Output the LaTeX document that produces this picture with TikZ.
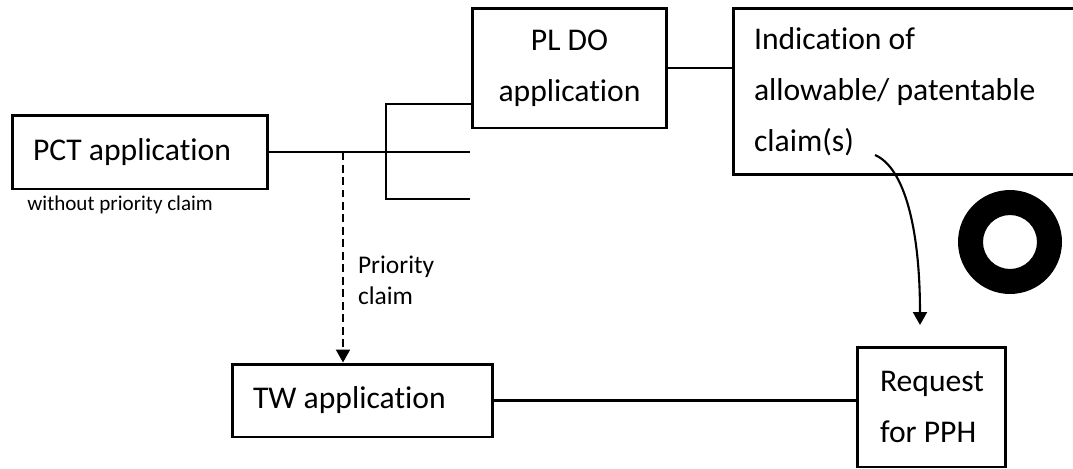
\documentclass[tikz,border=0pt]{standalone}
\usepackage{fontspec}
\setmainfont[Ligatures={NoCommon}]{Carlito}
\usetikzlibrary{arrows.meta}

\begin{document}
\begin{tikzpicture}[x=0.02cm, y=-0.02cm,
	box/.style={draw, line width=1.7pt, inner ysep=0pt, font=\fontsize{18}{29}\selectfont},
	leftbox/.style={box, align=flush left, inner xsep=0.42cm},
	midbox/.style={box, align=center, inner xsep=0pt},
	link/.style={line width=1.2pt},
	tip/.style={-{Triangle[length=0.26cm, width=0.28cm]}}]
			\useasboundingbox (0,0) rectangle (1073,468);
			\clip (0,0) rectangle (1073,468);
			\draw[color=black]
			node[leftbox, minimum height=1.48cm, text width=4.28cm] (pct) at (140,152) {PCT application}
			node[anchor=west, inner sep=0pt, font=\fontsize{12}{14}\selectfont] (pctnote) at (27,205) {without priority claim}
			node[midbox, minimum width=3.9cm, minimum height=2.4cm] (pldo) at (569.5,68) {PL DO\\application}
			node[leftbox, minimum height=3.34cm, text width=6.9cm] (ind) at (926.5,91.5) {Indication of\\allowable/ patentable\\claim(s)}
			node[leftbox, minimum height=1.46cm, text width=4.38cm] (tw) at (362.5,400.5) {TW application}
			node[leftbox, minimum height=2.4cm, inner xsep=0.46cm, text width=2.06cm] (req) at (931.5,407) {Request\\for PPH};
			\coordinate (pctend) at (470,152);
			\coordinate (branch) at (343,152);
			\coordinate (forktop) at (386,104);
			\coordinate (forkbot) at (386,199);
			\coordinate (stub) at (470,199);
			\coordinate (curvestart) at (875,155);
			\coordinate (curveend) at (920,325);
			\coordinate (ringc) at (1010,242);
			\draw [link] (pct.east |- pctend) -- (pctend);
			\draw [link] (forktop -| pldo.west) -- (forktop) -- (forkbot) -- (stub);
			\draw [link] (pldo.east) -- (pldo.east -| ind.west);
			\draw [link, tip, dashed, dash pattern=on 0.16cm off 0.09cm] (branch) -- (branch |- tw.north)
				node[pos=0.61, anchor=west, inner xsep=0.28cm, align=flush left, font=\fontsize{14.5}{18}\selectfont] {Priority\\claim};
			\draw [link] (tw.east) -- (tw.east -| req.west);
			\draw [link, tip] (curvestart) .. controls (905,168) and (920,230) .. (curveend);
			\fill [black, even odd rule] (ringc) circle (1.04cm) circle (0.54cm);
		\end{tikzpicture}
\end{document}
